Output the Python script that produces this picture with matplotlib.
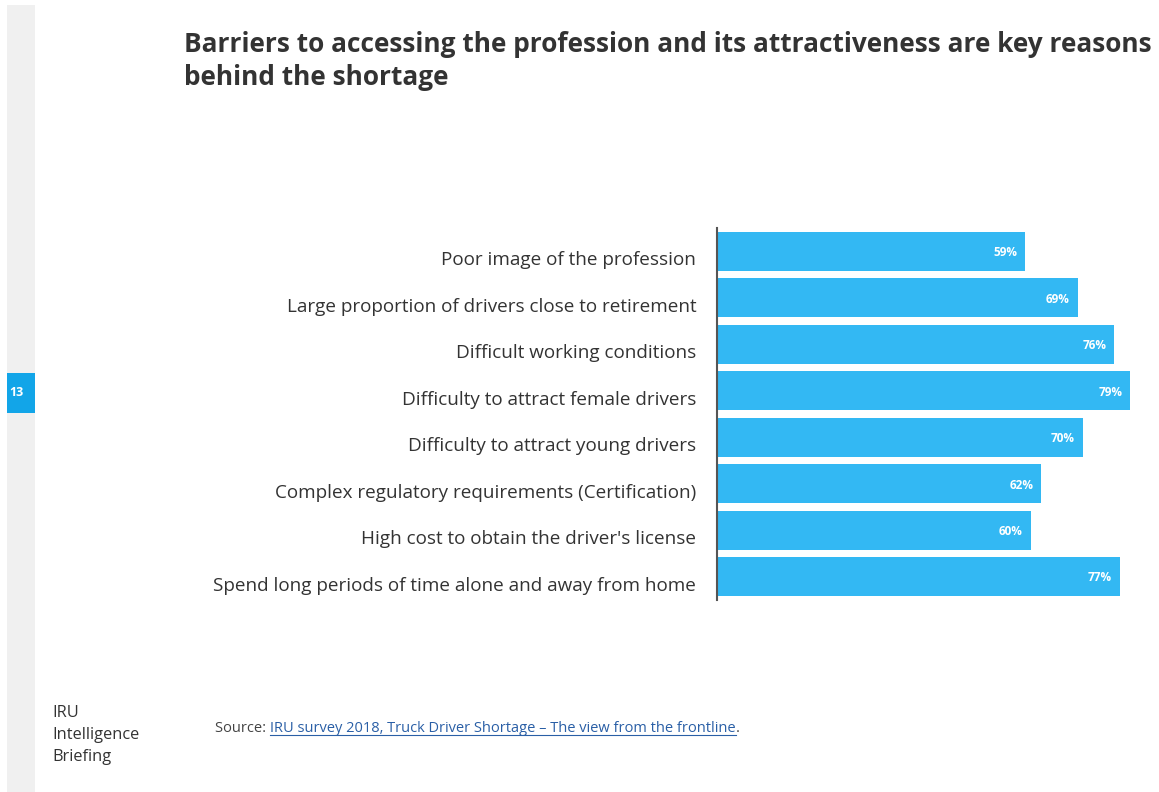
import matplotlib
matplotlib.use("Agg")
import matplotlib.pyplot as plt
from matplotlib.patches import Rectangle
from matplotlib.lines import Line2D
from matplotlib.transforms import ScaledTranslation

categories = [
    "Poor image of the profession",
    "Large proportion of drivers close to retirement",
    "Difficult working conditions",
    "Difficulty to attract female drivers",
    "Difficulty to attract young drivers",
    "Complex regulatory requirements (Certification)",
    "High cost to obtain the driver's license",
    "Spend long periods of time alone and away from home",
]
values = [59, 69, 76, 79, 70, 62, 60, 77]
value_labels = ["59%", "69%", "76%", "79%", "70%", "62%", "60%", "77%"]

W, H = 1159, 792
fig = plt.figure(figsize=(W / 100, H / 100), dpi=100)
fig.patch.set_facecolor("white")

def fx(px):
    return px / W

def fy(py):
    return 1 - py / H

# left gray strip and page number box
fig.patches.append(Rectangle((fx(7), 0), fx(28), fy(5), transform=fig.transFigure,
                             facecolor="#f0f0f0", edgecolor="none", zorder=0))
fig.patches.append(Rectangle((fx(7), fy(413)), fx(28), 40 / H, transform=fig.transFigure,
                             facecolor="#12a5e8", edgecolor="none", zorder=1))
fig.text(fx(9), fy(393), "13", color="white", fontsize=9, fontweight="bold",
         va="center", ha="left", family="Open Sans")

# axes
ax_left, ax_right = 717, 1141
ax_top, ax_bot = 228, 600
ax = fig.add_axes([fx(ax_left), fy(ax_bot), fx(ax_right - ax_left), (ax_bot - ax_top) / H])
scale = (1131 - 718) / 79.0
ax.set_xlim(0, (ax_right - ax_left) / scale)
n = len(categories)
pad = 0.506
ax.set_ylim(n - 1 + pad, -pad)
ypos = list(range(n))
ax.barh(ypos, values, height=0.84, color="#33b8f3", edgecolor="none")
for y, v, lab in zip(ypos, values, value_labels):
    ax.text(v - 1.5, y + 0.03, lab, color="white", fontsize=8.5, fontweight="bold",
            ha="right", va="center", family="Open Sans")
ax.set_yticks(ypos)
ax.set_yticklabels(categories, fontsize=13.6, color="#333333", family="Open Sans")
ax.tick_params(axis="y", length=0, pad=15)
shift = ScaledTranslation(0, -7 / 100, fig.dpi_scale_trans)
for lbl in ax.get_yticklabels():
    lbl.set_transform(lbl.get_transform() + shift)
ax.set_xticks([])
for s in ["top", "right", "bottom"]:
    ax.spines[s].set_visible(False)
ax.spines["left"].set_color("#555555")
ax.spines["left"].set_linewidth(1.5)
ax.set_facecolor("none")

# title
fig.text(fx(184), fy(61), "Barriers to accessing the profession and its attractiveness are key reasons\nbehind the shortage",
         fontsize=18.9, fontweight="bold", color="#333333", ha="left", va="center",
         linespacing=1.28, family="Open Sans")

# side label
fig.text(fx(52), fy(735), "IRU\nIntelligence\nBriefing", fontsize=11.8, color="#333333",
         ha="left", va="center", linespacing=1.5, family="Open Sans")

# source
fs = 10.5
t1 = fig.text(fx(215), fy(728), "Source: ", fontsize=fs, color="#444444",
              ha="left", va="center", family="Open Sans")
fig.canvas.draw()
r = fig.canvas.get_renderer()
bb1 = t1.get_window_extent(r)
link = "IRU survey 2018, Truck Driver Shortage \u2013 The view from the frontline"
t2 = fig.text(bb1.x1 / W, fy(728), link, fontsize=fs, color="#2a5fa6",
              ha="left", va="center", family="Open Sans")
fig.canvas.draw()
bb2 = t2.get_window_extent(r)
fig.text(bb2.x1 / W, fy(728), ".", fontsize=fs, color="#444444",
         ha="left", va="center", family="Open Sans")
uy = (bb2.y0 + 1) / H
fig.lines.append(Line2D([bb2.x0 / W, bb2.x1 / W], [uy, uy], transform=fig.transFigure,
                        color="#2a5fa6", linewidth=0.8))

fig.savefig("out.png", dpi=100, facecolor="white")
